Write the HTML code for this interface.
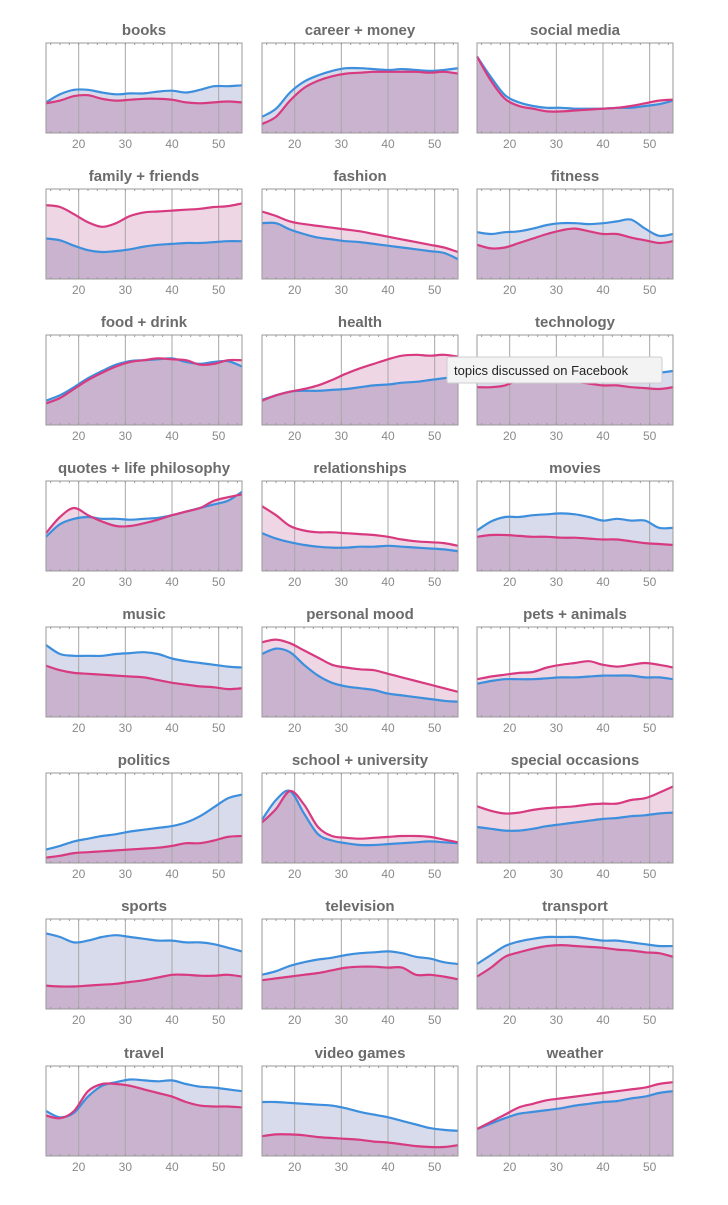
<!DOCTYPE html>
<html><head><meta charset="utf-8"><style>
body{margin:0;background:#fff;width:728px;height:1200px;overflow:hidden;font-family:"Liberation Sans",sans-serif}
</style></head><body>
<svg id="chart" width="728" height="1200" xmlns="http://www.w3.org/2000/svg"></svg>
<script>
const ages=[13,16,19,22,25,28,31,34,37,40,43,46,49,52,55];
const xTicks=[20,30,40,50];
const topics=["books","career + money","social media","family + friends","fashion","fitness","food + drink","health","technology","quotes + life philosophy","relationships","movies","music","personal mood","pets + animals","politics","school + university","special occasions","sports","television","transport","travel","video games","weather"];
const blueSeries=[
[.34,.43,.48,.48,.45,.43,.44,.44,.46,.47,.45,.48,.52,.52,.53],
[.18,.27,.45,.57,.64,.69,.72,.72,.71,.70,.71,.70,.69,.70,.72],
[.85,.62,.42,.34,.30,.28,.28,.27,.27,.27,.28,.28,.30,.32,.36],
[.45,.43,.37,.32,.30,.31,.33,.36,.38,.39,.40,.40,.41,.42,.42],
[.62,.62,.55,.50,.46,.44,.42,.41,.39,.37,.35,.33,.31,.29,.22],
[.52,.50,.52,.53,.56,.60,.62,.62,.61,.62,.64,.66,.56,.48,.50],
[.27,.33,.42,.52,.60,.67,.71,.72,.73,.74,.70,.68,.70,.71,.65],
[.28,.33,.37,.38,.38,.39,.40,.42,.44,.45,.47,.48,.50,.52,.54],
[.52,.53,.56,.60,.60,.58,.57,.57,.56,.55,.55,.55,.56,.58,.60],
[.38,.52,.58,.60,.58,.58,.57,.58,.59,.62,.66,.70,.74,.78,.88],
[.42,.36,.32,.29,.27,.26,.26,.27,.27,.28,.27,.26,.25,.24,.22],
[.45,.55,.60,.60,.62,.63,.64,.63,.60,.56,.58,.56,.56,.48,.48],
[.80,.70,.68,.68,.68,.70,.71,.72,.70,.65,.62,.60,.58,.56,.55],
[.70,.76,.72,.58,.46,.38,.34,.32,.30,.26,.24,.22,.20,.18,.17],
[.37,.40,.42,.42,.42,.43,.44,.44,.45,.46,.46,.46,.44,.44,.42],
[.15,.19,.24,.27,.30,.32,.35,.37,.39,.41,.45,.52,.62,.72,.76],
[.48,.70,.80,.55,.32,.25,.22,.20,.20,.21,.22,.23,.24,.23,.22],
[.40,.38,.36,.36,.38,.41,.43,.45,.47,.49,.50,.52,.53,.55,.56],
[.84,.80,.74,.76,.80,.82,.80,.78,.76,.76,.74,.74,.72,.68,.64],
[.38,.42,.48,.52,.55,.57,.60,.62,.63,.64,.62,.58,.56,.52,.50],
[.50,.60,.70,.75,.78,.80,.80,.80,.78,.76,.76,.74,.72,.70,.70],
[.50,.43,.48,.66,.78,.82,.85,.84,.83,.84,.80,.77,.76,.74,.72],
[.60,.60,.59,.58,.57,.56,.53,.49,.46,.43,.39,.35,.31,.29,.28],
[.30,.36,.42,.47,.49,.51,.53,.56,.58,.60,.61,.64,.66,.70,.72]];
const pinkSeries=[
[.33,.36,.41,.42,.38,.36,.37,.38,.38,.37,.34,.33,.34,.35,.34],
[.10,.18,.36,.50,.58,.63,.66,.67,.68,.68,.68,.68,.67,.68,.66],
[.85,.58,.38,.30,.27,.24,.24,.25,.26,.27,.28,.30,.33,.36,.37],
[.82,.80,.72,.63,.58,.62,.70,.74,.75,.76,.77,.78,.80,.81,.84],
[.75,.70,.64,.61,.59,.57,.55,.53,.50,.47,.44,.41,.38,.35,.30],
[.38,.34,.35,.40,.45,.50,.54,.56,.53,.50,.50,.46,.43,.40,.42],
[.24,.30,.40,.50,.58,.65,.70,.72,.74,.73,.72,.67,.68,.72,.72],
[.27,.33,.37,.40,.44,.50,.57,.63,.68,.73,.77,.78,.77,.78,.76],
[.42,.42,.44,.50,.51,.49,.48,.48,.46,.44,.44,.42,.41,.40,.42],
[.42,.60,.70,.62,.55,.50,.50,.53,.57,.62,.66,.70,.78,.82,.85],
[.72,.62,.50,.45,.43,.43,.42,.41,.40,.38,.35,.33,.32,.31,.28],
[.38,.40,.40,.39,.38,.38,.37,.37,.36,.35,.35,.33,.31,.30,.29],
[.57,.52,.49,.48,.47,.46,.45,.44,.41,.38,.36,.34,.33,.31,.32],
[.83,.86,.82,.74,.66,.58,.55,.53,.52,.48,.44,.40,.36,.32,.28],
[.42,.45,.47,.49,.50,.55,.58,.60,.62,.58,.56,.58,.60,.58,.55],
[.06,.08,.11,.12,.13,.14,.15,.16,.17,.19,.22,.22,.25,.29,.30],
[.45,.60,.80,.65,.40,.30,.28,.27,.28,.29,.30,.30,.29,.26,.23],
[.63,.58,.55,.56,.59,.61,.62,.63,.65,.66,.66,.70,.72,.78,.85],
[.26,.25,.25,.26,.27,.28,.30,.32,.35,.38,.38,.37,.37,.38,.36],
[.32,.34,.36,.38,.40,.43,.46,.47,.47,.46,.46,.38,.38,.36,.33],
[.36,.46,.58,.63,.67,.70,.71,.70,.69,.68,.66,.65,.63,.62,.58],
[.45,.42,.50,.72,.80,.80,.78,.74,.70,.66,.60,.56,.55,.55,.54],
[.22,.24,.24,.23,.21,.20,.19,.18,.16,.15,.13,.11,.10,.10,.12],
[.30,.38,.46,.54,.58,.62,.64,.66,.68,.70,.72,.74,.76,.80,.82]];

const NS="http://www.w3.org/2000/svg";
const svg=document.getElementById('chart');
const colX=[46,262,477], rowY=[43,189,335,481,627,773,919,1066], W=196, H=90;
function mk(tag,attrs,parent){const e=document.createElementNS(NS,tag);for(const k in attrs)e.setAttribute(k,attrs[k]);(parent||svg).appendChild(e);return e;}
function smooth(pts){let d='M'+pts[0][0]+','+pts[0][1];for(let i=0;i<pts.length-1;i++){const p0=pts[i-1]||pts[i],p1=pts[i],p2=pts[i+1],p3=pts[i+2]||p2;
d+=' C'+(p1[0]+(p2[0]-p0[0])/6).toFixed(1)+','+(p1[1]+(p2[1]-p0[1])/6).toFixed(1)+' '+(p2[0]-(p3[0]-p1[0])/6).toFixed(1)+','+(p2[1]-(p3[1]-p1[1])/6).toFixed(1)+' '+p2[0].toFixed(1)+','+p2[1].toFixed(1);}return d;}
topics.forEach((t,i)=>{
  const x0=colX[i%3], y0=rowY[Math.floor(i/3)];
  const g=mk('g',{});
  
  
  const sx=a=>x0+(a-13)/(55-13)*W, sy=v=>y0+H-v*H;
  const title=mk('text',{x:x0+W/2,y:y0-8,'text-anchor':'middle','font-size':15,'font-weight':'bold',fill:'#6b6b6b'},g);
  title.textContent=t;
  
  
  const b=blueSeries[i], p=pinkSeries[i];
  const bp=ages.map((a,k)=>[sx(a),sy(b[k])]), pp=ages.map((a,k)=>[sx(a),sy(p[k])]), mp=ages.map((a,k)=>[sx(a),sy(Math.min(b[k],p[k]))]);
  const close=' L'+sx(55)+','+(y0+H)+' L'+sx(13)+','+(y0+H)+' Z';
  mk('path',{d:smooth(bp)+close,fill:'#d8dbeb'},g);
  mk('path',{d:smooth(pp)+close,fill:'#eed6e5'},g);
  mk('path',{d:smooth(mp)+close,fill:'#c9b3cf'},g);
  xTicks.forEach(v=>{mk('line',{x1:sx(v),x2:sx(v),y1:y0,y2:y0+H,stroke:'#a8a8a8','stroke-width':1},g);
    const tl=mk('text',{x:sx(v),y:y0+H+15,'text-anchor':'middle','font-size':12,fill:'#8a8a8a'},g);tl.textContent=v;
    
    });
  for(let a=14;a<=54;a+=2){mk('line',{x1:sx(a),x2:sx(a),y1:y0,y2:y0+2,stroke:'#999'},g);mk('line',{x1:sx(a),x2:sx(a),y1:y0+H,y2:y0+H-2,stroke:'#999'},g);}
  const bl=mk('path',{d:smooth(bp),fill:'none',stroke:'#3d8fdd','stroke-width':2.2},g);
  
  
  const pl=mk('path',{d:smooth(pp),fill:'none',stroke:'#d83a80','stroke-width':2.2},g);
  
  
  mk('rect',{x:x0,y:y0,width:W,height:H,fill:'none',stroke:'#9a9a9a','stroke-width':1},g);
});
const tip=mk('g',{});


mk('rect',{x:447,y:357,width:215,height:26,fill:'#f3f3f3',stroke:'#cfcfcf',rx:2},tip);
const tt=mk('text',{x:454,y:375,'font-size':13,fill:'#222'},tip);tt.textContent='topics discussed on Facebook';
</script>
</body></html>
